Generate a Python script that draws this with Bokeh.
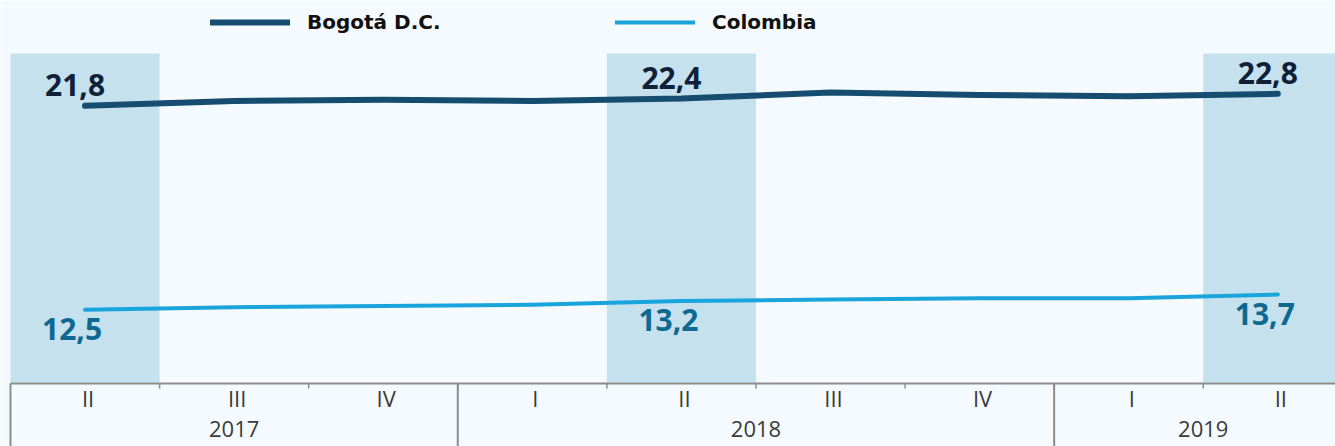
from bokeh.plotting import figure
from bokeh.models import Range1d, ColumnDataSource, Legend, LegendItem
from bokeh.core.properties import value
from bokeh.embed import file_html
from bokeh.resources import INLINE

# ---------------- data ----------------
years = ["2017", "2017", "2017", "2018", "2018", "2018", "2018", "2019", "2019"]
quarters = ["II", "III", "IV", "I", "II", "III", "IV", "I", "II"]
bogota = [21.8, 22.2, 22.3, 22.2, 22.4, 22.9, 22.7, 22.6, 22.8]
colombia = [12.5, 12.7, 12.8, 12.9, 13.2, 13.3, 13.4, 13.4, 13.7]
series_names = ["Bogotá D.C.", "Colombia"]
labelled_quarter = "II"

# ---------------- style / layout ----------------
BG = "#f5fafe"
BAND = "#c5e1ee"
C_BOG = "#164c70"
C_COL = "#19a4dc"
T_BOG = "#0e2139"
T_COL = "#0d6991"
GRAY = "#8c8c8c"
TXT = "#3a3a3a"
W, H = 1335, 446
PLOT_TOP, PLOT_BOTTOM = 53, 382      # pixel rows of the plotting area

idx = list(range(len(quarters)))
fmt = lambda v: f"{v:.1f}".replace(".", ",")
hl = [i for i, q in enumerate(quarters) if q == labelled_quarter]

p = figure(width=W, height=H, output_backend="svg", toolbar_location=None,
           x_range=Range1d(-0.567, 8.387), y_range=Range1d(-6.59, 30.575),
           x_axis_location=None, y_axis_location=None,
           min_border_left=0, min_border_right=0, min_border_top=0, min_border_bottom=0,
           background_fill_color=BG, border_fill_color=BG, outline_line_color=None)
p.extra_y_ranges = {"col": Range1d(1.78, 36.76), "px": Range1d(H, 0)}
p.grid.visible = False

# highlighted quarter bands
band_src = ColumnDataSource(dict(x=hl))
p.vbar(x="x", width=1, bottom=PLOT_BOTTOM, top=PLOT_TOP, source=band_src,
       fill_color=BAND, line_color=None, y_range_name="px")

# series lines
src = ColumnDataSource(dict(x=idx, bog=bogota, col=colombia))
r_bog = p.line("x", "bog", source=src, line_color=C_BOG, line_width=6,
               line_cap="round", line_join="round")
r_col = p.line("x", "col", source=src, line_color=C_COL, line_width=4,
               line_cap="round", line_join="round", y_range_name="col")

# value labels
lab_src = ColumnDataSource(dict(
    x=hl,
    bog=[bogota[i] for i in hl], bog_t=[fmt(bogota[i]) for i in hl],
    col=[colombia[i] for i in hl], col_t=[fmt(colombia[i]) for i in hl]))
p.text("x", "bog", text="bog_t", source=lab_src, text_font=value("Open Sans"),
       text_font_style="bold", text_font_size="30px", text_color=T_BOG,
       text_align="center", text_baseline="alphabetic", x_offset=-10, y_offset=-21)
p.text("x", "col", text="col_t", source=lab_src, text_font=value("Open Sans"),
       text_font_style="bold", text_font_size="30px", text_color=T_COL,
       text_align="center", text_baseline="alphabetic", x_offset=-13, y_offset=19,
       y_range_name="col")

# ---------------- category axis (quarters / years) ----------------
n = len(idx)
p.segment(x0=[-0.5], x1=[n - 0.5], y0=[PLOT_BOTTOM + 1], y1=[PLOT_BOTTOM + 1],
          line_color=GRAY, line_width=2, y_range_name="px")
bnd = [i + 0.5 for i in idx[:-1]]
p.segment(x0=bnd, x1=bnd, y0=[PLOT_BOTTOM + 1] * len(bnd), y1=[PLOT_BOTTOM + 6] * len(bnd),
          line_color=GRAY, line_width=1.5, y_range_name="px")
p.text(x=idx, y=[PLOT_BOTTOM + 15] * n, text=quarters, text_font=value("Open Sans"),
       text_font_size="22px", text_color=TXT, text_align="center",
       text_baseline="alphabetic", x_offset=3, y_range_name="px")

uyears = sorted(set(years))
ycent = [sum(i for i in idx if years[i] == y) / years.count(y) for y in uyears]
ystart = [min(i for i in idx if years[i] == y) - 0.5 for y in uyears]
p.text(x=ycent, y=[PLOT_BOTTOM + 46] * len(uyears), text=uyears,
       text_font=value("Open Sans"), text_font_size="22px", text_color=TXT,
       text_align="center", text_baseline="alphabetic", y_range_name="px")
p.segment(x0=ystart, x1=ystart, y0=[PLOT_BOTTOM + 1] * len(ystart), y1=[H] * len(ystart),
          line_color=GRAY, line_width=2, y_range_name="px")

# ---------------- legends ----------------
for name, r, x in [(series_names[0], r_bog, 210), (series_names[1], r_col, 615)]:
    leg = Legend(items=[LegendItem(label=name, renderers=[r])], location=(x, 412),
                 orientation="horizontal", glyph_width=80, glyph_height=24,
                 label_height=24, label_standoff=17, padding=0, margin=0,
                 border_line_color=None, background_fill_alpha=0,
                 label_text_font="DejaVu Sans", label_text_font_style="bold",
                 label_text_font_size="20px", label_text_color="#111111")
    p.add_layout(leg)

html = file_html(p, INLINE)
html = html.replace("<body>", '<body style="background-color:%s">' % BG, 1)
open("out.html", "w").write(html)
